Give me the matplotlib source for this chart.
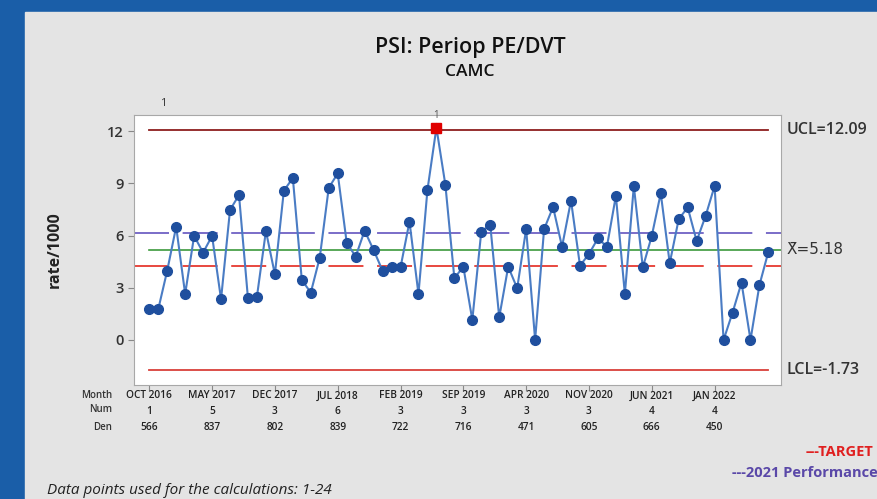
import matplotlib.pyplot as plt
import matplotlib.patches as patches
import numpy as np

plt.rcParams['font.family'] = ['Open Sans', 'DejaVu Sans']

# rate per 1000, Oct 2016 .. Jul 2022
rates = [1.76, 1.76, 3.98, 6.51, 2.64, 5.98, 5.02, 5.98, 2.34, 7.47,
         8.33, 2.39, 2.49, 6.26, 3.77, 8.58, 9.31, 3.45, 2.72, 4.73,
         8.74, 9.57, 5.60, 4.79, 6.28, 5.17, 3.98, 4.21, 4.17, 6.80,
         2.64, 8.62, 12.20, 8.91, 3.55, 4.21, 1.15, 6.23, 6.61, 1.30,
         4.21, 2.97, 6.38, 0.00, 6.37, 7.64, 5.36, 8.01, 4.27, 4.94,
         5.84, 5.36, 8.28, 2.64, 8.85, 4.17, 5.98, 8.43, 4.41, 6.94,
         7.62, 5.69, 7.13, 8.85, 0.00, 1.57, 3.29, 0.00, 3.16, 5.08]
ucl = 12.09
mean = 5.18
lcl = -1.73
target = 4.23
perf_2021 = 6.17
out_idx = [32]

tick_pos = [0, 7, 14, 21, 28, 35, 42, 49, 56, 63]
months = ['OCT 2016', 'MAY 2017', 'DEC 2017', 'JUL 2018', 'FEB 2019',
          'SEP 2019', 'APR 2020', 'NOV 2020', 'JUN 2021', 'JAN 2022']
nums = ['1', '5', '3', '6', '3', '3', '3', '3', '4', '4']
dens = ['566', '837', '802', '839', '722', '716', '471', '605', '666', '450']

fig = plt.figure(figsize=(8.77, 4.99), dpi=100)
fig.patch.set_facecolor('#1a5ea8')
fig.add_artist(patches.Rectangle((25 / 877, 0), 1, (499 - 12) / 499,
                                 transform=fig.transFigure, color='#e4e4e4', zorder=0))

ax = fig.add_axes([134 / 877, 114 / 499, 647 / 877, 270 / 499])
ax.set_facecolor('white')
x = np.arange(len(rates))
n = len(rates)

ax.plot([-1.7, 70.4], [perf_2021, perf_2021], color='#7a6cc8', lw=1.4, dashes=(18, 7), zorder=2)
ax.plot([-1.7, 70.4], [target, target], color='#e8473f', lw=1.4, dashes=(18, 7), zorder=2)
ax.plot([0, 70.4], [mean, mean], color='#3c9a3c', lw=1.2, zorder=2)
ax.plot([0, n - 1], [ucl, ucl], color='#8e1f1f', lw=1.3, zorder=2)
ax.plot([0, n - 1], [lcl, lcl], color='#d9403a', lw=1.3, zorder=2)

ax.plot(x, rates, color='#4a7cc4', lw=1.5, marker='o', ms=7,
        mfc='#1f4f9e', mec='#1f4f9e', zorder=3)
for i in out_idx:
    ax.plot(x[i], rates[i], 's', color='#e00000', ms=7, zorder=4)
    ax.text(x[i], 12.6, '1', ha='center', va='bottom', fontsize=7, color='#555555')

ax.set_xlim(-1.7, 70.4)
ax.set_ylim(-2.59, 12.93)
ax.set_yticks([0, 3, 6, 9, 12])
ax.set_yticklabels(['0', '3', '6', '9', '12'], fontsize=10.5, fontweight='semibold', color='#333333')
ax.set_xticks(tick_pos)
ax.set_xticklabels([])
ax.tick_params(axis='both', direction='out', length=4, color='#888888', width=0.8)
for s in ax.spines.values():
    s.set_color('#a8a8a8')
ax.set_ylabel('rate/1000', fontsize=11.5, fontweight='bold', color='#222222', labelpad=32)

# limit labels on the right
ax.text(1.008, ucl, 'UCL=12.09', transform=ax.get_yaxis_transform(), va='center',
        fontsize=11.5, fontweight='semibold', color='#333333')
ax.text(1.008, mean, 'X\u0304=5.18', transform=ax.get_yaxis_transform(), va='center',
        fontsize=11, color='#333333', family=['DejaVu Sans'])
ax.text(1.008, lcl, 'LCL=-1.73', transform=ax.get_yaxis_transform(), va='center',
        fontsize=11.5, fontweight='semibold', color='#333333')

# table of month / num / den under the axis
rows = [('Month', months, 395), ('Num', nums, 410), ('Den', dens, 427)]
tr = ax.get_xaxis_transform()
for name, vals, ypx in rows:
    yf = (ypx - 384) / -270.0
    ax.text(112 / 877, 1 - ypx / 499, name, transform=fig.transFigure, ha='right',
            va='center', fontsize=7, fontweight='semibold', color='#333333')
    for p, v in zip(tick_pos, vals):
        ax.text(p, yf, v, transform=tr, ha='center', va='center', fontsize=7.3,
                fontweight='semibold', color='#222222', clip_on=False)

fig.text(0.536, 1 - 47 / 499, 'PSI: Periop PE/DVT', ha='center', va='center',
         fontsize=15.5, fontweight='semibold', color='#111111')
fig.text(0.536, 1 - 72 / 499, 'CAMC', ha='center', va='center', fontsize=12.5,
         fontweight='semibold', color='#111111')
fig.text(163 / 877, 1 - 103 / 499, '1', ha='center', va='center', fontsize=8, color='#333333')

fig.text(806 / 877, 1 - 452 / 499, '---TARGET', ha='left', va='center', fontsize=10.5,
         color='#e02020', fontweight='bold')
fig.text(732 / 877, 1 - 473 / 499, '---2021 Performance', ha='left', va='center',
         fontsize=10.5, color='#5a48a8', fontweight='bold')
fig.text(47 / 877, 1 - 490 / 499, 'Data points used for the calculations: 1-24', ha='left',
         va='center', fontsize=11, style='italic', color='#222222')

fig.savefig('out.png', dpi=100, facecolor=fig.get_facecolor())
